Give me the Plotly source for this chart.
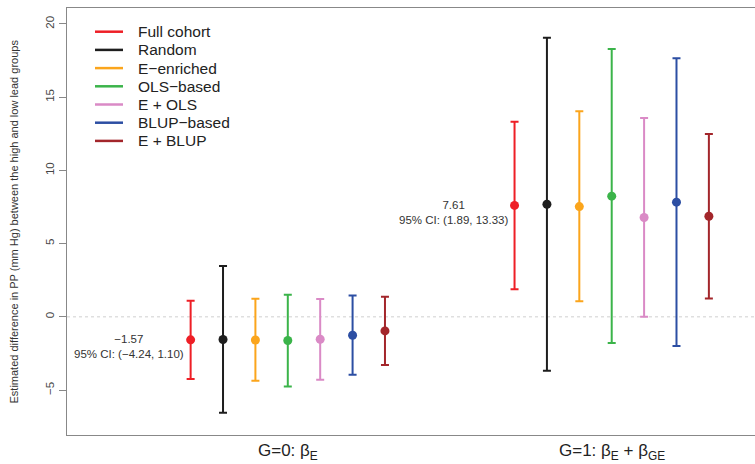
import plotly.graph_objects as go

methods = ["Full cohort", "Random", "E\u2212enriched", "OLS\u2212based", "E + OLS", "BLUP\u2212based", "E + BLUP"]
colors = ["#EE1F26", "#1E1E1E", "#FBA51C", "#3BB44A", "#DA8AC6", "#2C4EA3", "#A3262B"]
groups = [1, 2]
group_labels = ["G=0: \u03b2<sub>E</sub>", "G=1: \u03b2<sub>E</sub> + \u03b2<sub>GE</sub>"]

# estimates and 95% CI for G=0 and G=1
est = [[-1.57, 7.61], [-1.55, 7.69], [-1.58, 7.53], [-1.62, 8.24], [-1.53, 6.78], [-1.26, 7.83], [-0.96, 6.87]]
lower = [[-4.24, 1.89], [-6.55, -3.68], [-4.36, 1.07], [-4.75, -1.78], [-4.29, 0.00], [-3.95, -1.99], [-3.29, 1.25]]
upper = [[1.10, 13.33], [3.47, 19.06], [1.23, 14.04], [1.51, 18.29], [1.21, 13.58], [1.46, 17.65], [1.37, 12.49]]
offsets = [-0.3, -0.2, -0.1, 0.0, 0.1, 0.2, 0.3]
yticks = [-5, 0, 5, 10, 15, 20]

font = "Liberation Sans, Arial, sans-serif"
W, H = 755, 464
ML, MR, MT, MB = 67, 0, 8, 29
PW, PH = W - ML - MR, H - MT - MB

def px(x):
    return (x - ML) / PW

def py(y):
    return 1 - (y - MT) / PH

fig = go.Figure()

for i, m in enumerate(methods):
    xs = [g + offsets[i] for g in groups]
    fig.add_trace(go.Scatter(
        x=xs, y=est[i], mode="markers", name=m,
        marker=dict(color=colors[i], size=9),
        error_y=dict(type="data", symmetric=False,
                     array=[u - e for u, e in zip(upper[i], est[i])],
                     arrayminus=[e - l for e, l in zip(est[i], lower[i])],
                     color=colors[i], thickness=2, width=4),
        showlegend=False, hoverinfo="skip"))

# legend (drawn manually to match row spacing)
for i, m in enumerate(methods):
    yy = py(31.7 + 18.2 * i)
    fig.add_shape(type="line", xref="paper", yref="paper",
                  x0=px(95), x1=px(123), y0=yy, y1=yy,
                  line=dict(color=colors[i], width=2.5))
    fig.add_annotation(x=px(136), y=yy, xref="paper", yref="paper",
                       xanchor="left", yanchor="middle", showarrow=False,
                       text=m, font=dict(family=font, size=15.5, color="#222222"))

def fmt(v):
    return f"{v:.2f}".replace("-", "\u2212")

for j, g in enumerate(groups):
    fig.add_annotation(
        x=g + offsets[0], y=est[0][j], xref="x", yref="y",
        text=f"{fmt(est[0][j])}<br>95% CI: ({fmt(lower[0][j])}, {fmt(upper[0][j])})",
        showarrow=False, xanchor="right", yanchor="middle", align="center",
        xshift=-5, yshift=-7, font=dict(family=font, size=11.5, color="#333333"))

for j, g in enumerate(groups):
    fig.add_annotation(
        x=g, y=0, xref="x", yref="paper", xanchor="center", yanchor="top",
        yshift=-4, showarrow=False, text=group_labels[j],
        font=dict(family=font, size=17, color="#222222"))

fig.add_shape(type="line", xref="paper", x0=0, x1=1, yref="y", y0=0, y1=0,
              line=dict(color="#CFCFCF", width=1, dash="3px,3px"), layer="below")

fig.add_annotation(
    x=0, y=0.5, xref="paper", yref="paper", xanchor="center", yanchor="middle",
    xshift=-54, textangle=-90, showarrow=False,
    text="Estimated difference in PP (mm Hg) between the high and low lead groups",
    font=dict(family=font, size=11, color="#333333"))

fig.update_layout(
    width=W, height=H,
    margin=dict(l=ML, r=MR, t=MT, b=MB),
    plot_bgcolor="white", paper_bgcolor="white",
    font=dict(family=font, color="#333333"),
    showlegend=False,
    xaxis=dict(range=[0.3183, 2.4424], showgrid=False, zeroline=False, automargin=False,
               showline=True, mirror=True, linecolor="#888888", linewidth=1.3,
               showticklabels=False, ticks=""),
    yaxis=dict(range=[-8.07, 21.09], showgrid=False, zeroline=False, automargin=False,
               showline=True, mirror=False, linecolor="#888888", linewidth=1.3,
               tickmode="array", tickvals=yticks,
               ticktext=[str(t).replace("-", "\u2212") for t in yticks],
               ticks="outside", ticklen=7, tickcolor="#888888", tickangle=-90,
               tickfont=dict(family=font, size=11.5, color="#444444")),
)

fig.write_html("out.html", config={"displayModeBar": False},
               post_script="document.body.style.margin='0';document.body.style.overflow='hidden';")
